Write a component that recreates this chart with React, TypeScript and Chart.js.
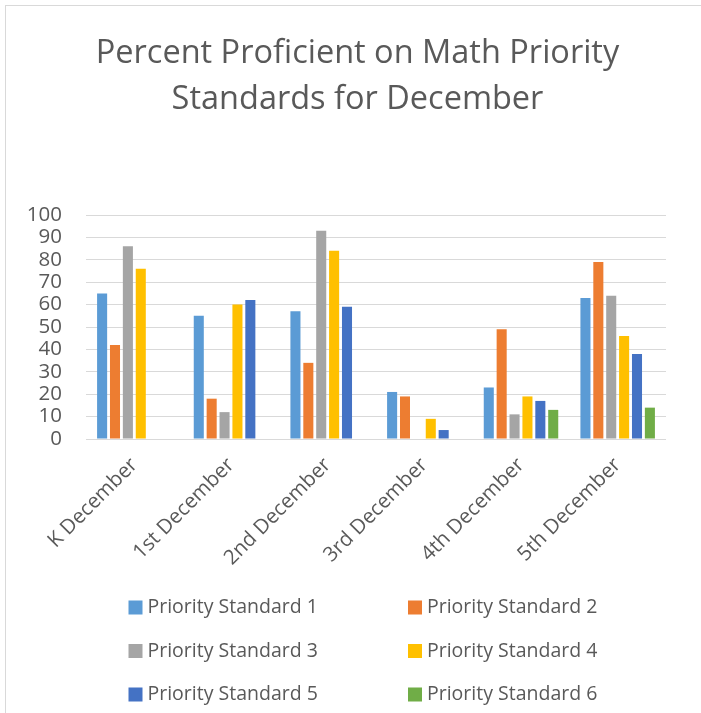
import React, { useEffect, useRef } from "react";
import { Chart, registerables } from "chart.js";

Chart.register(...registerables);

const categories = ["K December", "1st December", "2nd December", "3rd December", "4th December", "5th December"];
const seriesNames = ["Priority Standard 1", "Priority Standard 2", "Priority Standard 3", "Priority Standard 4", "Priority Standard 5", "Priority Standard 6"];
const ps1 = [65, 55, 57, 21, 23, 63];
const ps2 = [42, 18, 34, 19, 49, 79];
const ps3 = [86, 12, 93, null, 11, 64];
const ps4 = [76, 60, 84, 9, 19, 46];
const ps5 = [null, 62, 59, 4, 17, 38];
const ps6 = [null, null, null, null, 13, 14];
const seriesValues = [ps1, ps2, ps3, ps4, ps5, ps6];
const colors = ["#5B9BD5", "#ED7D31", "#A5A5A5", "#FFC000", "#4472C4", "#70AD47"];
const titleLines = ["Percent Proficient on Math Priority", "Standards for December"];

const FONT = "'Open Sans'";
const TEXT = "#595959";

const framePlugin = {
  id: "frame",
  beforeDraw(chart: any) {
    const { ctx, width, height } = chart;
    ctx.save();
    ctx.fillStyle = "#ffffff";
    ctx.fillRect(0, 0, width, height);
    ctx.strokeStyle = "#d9d9d9";
    ctx.lineWidth = 1;
    ctx.strokeRect(5.5, 5.5, width + 10, height + 10);
    ctx.restore();
  },
};

const titlePlugin = {
  id: "centerTitle",
  afterDraw(chart: any) {
    const { ctx } = chart;
    const baselines = [62.5, 108.5];
    ctx.save();
    ctx.font = `32.5px ${FONT}`;
    ctx.fillStyle = TEXT;
    ctx.textAlign = "center";
    ctx.textBaseline = "alphabetic";
    titleLines.forEach((line, i) => ctx.fillText(line, 357.5, baselines[i]));
    ctx.restore();
  },
};

const legendPlugin = {
  id: "gridLegend",
  afterDraw(chart: any) {
    const { ctx } = chart;
    const colX = [128.5, 408];
    const rowY = [607.5, 651, 694.5];
    const box = 14;
    ctx.save();
    ctx.font = `19.5px ${FONT}`;
    ctx.textBaseline = "middle";
    ctx.textAlign = "left";
    chart.data.datasets.forEach((ds: any, i: number) => {
      const x = colX[i % 2];
      const y = rowY[Math.floor(i / 2)];
      ctx.fillStyle = ds.backgroundColor;
      ctx.fillRect(x, y - box / 2, box, box);
      ctx.fillStyle = TEXT;
      ctx.fillText(ds.label, x + box + 5, y);
    });
    ctx.restore();
  },
};

export default function App() {
  const ref = useRef<HTMLCanvasElement>(null);
  useEffect(() => {
    if (!ref.current) return;
    const chart = new Chart(ref.current, {
      type: "bar",
      data: {
        labels: categories,
        datasets: seriesValues.map((vals, i) => ({
          label: seriesNames[i],
          data: vals,
          backgroundColor: colors[i],
          borderWidth: 0,
          categoryPercentage: 0.8,
          barPercentage: 0.78,
        })),
      },
      options: {
        responsive: false,
        animation: false,
        layout: { padding: { left: 0, right: 35, top: 215, bottom: 0 } },
        plugins: {
          legend: { display: false },
          tooltip: { enabled: false },
          title: { display: false },
        },
        scales: {
          x: {
            grid: { display: false },
            border: { display: false },
            ticks: {
              color: TEXT,
              font: { family: FONT, size: 20.5 },
              maxRotation: 45,
              minRotation: 45,
              padding: 6,
            },
            afterFit(scale: any) {
              scale.height = 274;
            },
          },
          y: {
            min: 0,
            max: 100,
            grid: { color: "#d9d9d9", lineWidth: 1, drawTicks: false },
            border: { display: false },
            ticks: {
              stepSize: 10,
              autoSkip: false,
              color: TEXT,
              font: { family: FONT, size: 20.5, lineHeight: 1 },
              padding: 24,
            },
            afterFit(scale: any) {
              scale.width = 86;
            },
          },
        },
      },
      plugins: [framePlugin, titlePlugin, legendPlugin],
    });
    return () => chart.destroy();
  }, []);
  return (
    <div style={{ position: "absolute", left: 0, top: 0, width: 701, height: 713 }}>
      <canvas ref={ref} width={701} height={713} style={{ display: "block" }} />
    </div>
  );
}
